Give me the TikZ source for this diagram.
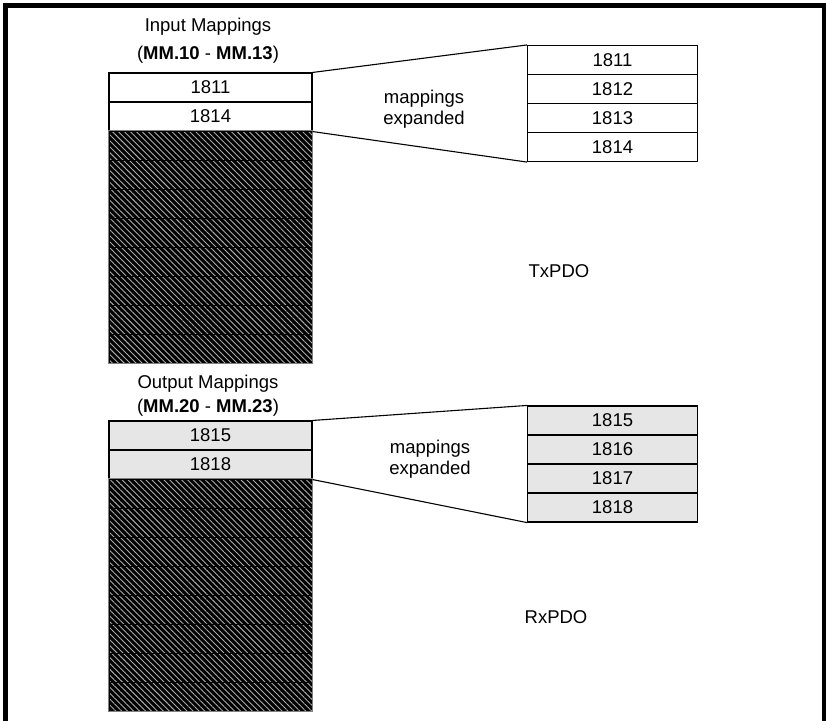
\documentclass[tikz,border=0pt]{standalone}
\usepackage{fontspec}
\setmainfont{Liberation Sans}
\usetikzlibrary{patterns.meta}
\definecolor{cellgray}{HTML}{E6E6E6}
\begin{document}
\begin{tikzpicture}[x=1pt,y=-1pt,
  txt/.style={inner sep=0pt, font=\fontsize{18.5}{21.5}\selectfont},
  cell/.style={draw=black, line width=1.1pt, minimum height=29pt, inner sep=0pt, font=\fontsize{18.5}{21.5}\selectfont},
  lcell/.style={cell, minimum width=203pt},
  rcell/.style={cell, minimum width=170pt},
  hatchrow/.style={draw=black, line width=0.8pt, minimum width=203pt, minimum height=29pt, inner sep=0pt,
     preaction={fill=black}, pattern={Lines[angle=-45,distance=4.2pt,line width=0.9pt]}, pattern color=gray!65!white},
  conn/.style={draw=black, line width=1.1pt},
]
\useasboundingbox (0,0) rectangle (826,720);
% outer frame (open at bottom)
\draw[line width=5pt] (5.5,722) -- (5.5,5.5) -- (824,5.5) -- (824,722);

% ---------- TxPDO ----------
\node[txt] (inlab) at (208,27) {Input Mappings};
\node[txt] (inmm) at (208,55) {(\textbf{MM.10} - \textbf{MM.13})};
\node[lcell, fill=white] (i1) at (210.5,87.5) {1811};
\node[lcell, fill=white] (i2) at (210.5,116.5) {1814};
\foreach \k in {0,...,7}{
  \node[hatchrow] (ih\k) at (210.5,145.5+29*\k) {};
}
\draw[gray, line width=0.8pt] (ih0.north west) rectangle (ih7.south east);

\node[rcell, fill=white] (e1) at (612.5,60) {1811};
\node[rcell, fill=white] (e2) at (612.5,89) {1812};
\node[rcell, fill=white] (e3) at (612.5,118) {1813};
\node[rcell, fill=white] (e4) at (612.5,147) {1814};
\draw[conn] (i1.north east) -- (e1.north west);
\draw[conn] (i2.south east) -- (e4.south west);
\node[txt, align=center] (inexp) at (424,109) {mappings\\expanded};
\node[txt] (tx) at (559,271) {TxPDO};

% ---------- RxPDO ----------
\node[txt] (outlab) at (208,384) {Output Mappings};
\node[txt] (outmm) at (208,408) {(\textbf{MM.20} - \textbf{MM.23})};
\node[lcell, fill=cellgray] (o1) at (210.5,435.5) {1815};
\node[lcell, fill=cellgray] (o2) at (210.5,464.5) {1818};
\foreach \k in {0,...,7}{
  \node[hatchrow] (oh\k) at (210.5,493.5+29*\k) {};
}
\draw[gray, line width=0.8pt] (oh0.north west) rectangle (oh7.south east);

\node[rcell, fill=cellgray] (f1) at (612.5,420.5) {1815};
\node[rcell, fill=cellgray] (f2) at (612.5,449.5) {1816};
\node[rcell, fill=cellgray] (f3) at (612.5,478.5) {1817};
\node[rcell, fill=cellgray] (f4) at (612.5,507.5) {1818};
\draw[conn] (o1.north east) -- (f1.north west);
\draw[conn] (o2.south east) -- (f4.south west);
\node[txt, align=center] (outexp) at (430,459) {mappings\\expanded};
\node[txt] (rx) at (556,617) {RxPDO};
\end{tikzpicture}
\end{document}
